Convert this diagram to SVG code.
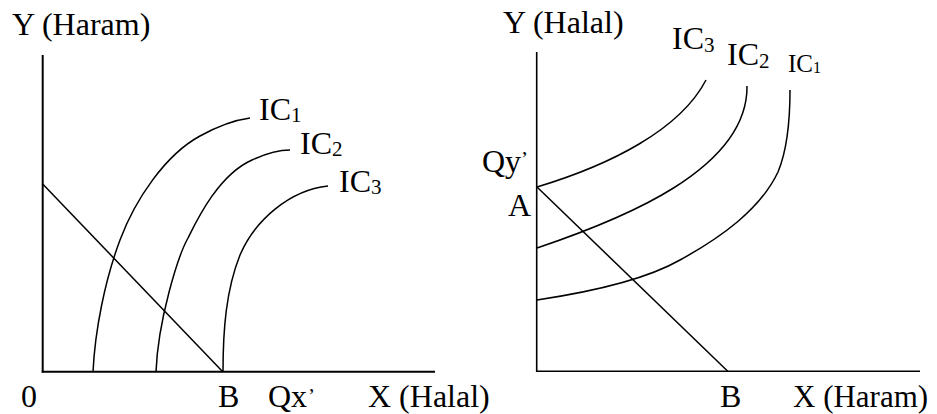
<svg xmlns="http://www.w3.org/2000/svg" width="937" height="414" viewBox="0 0 937 414">
<style>
text{font-family:"Liberation Serif","Times New Roman",serif;font-size:32px;fill:#000}
.sub{font-size:21px}
.axis{stroke:#000;stroke-width:2;fill:none}
.curve{stroke:#000;stroke-width:1.5;fill:none}
</style>
<rect width="937" height="414" fill="#fff"/>
<g id="left-panel">
<g id="left-axes">
<line class="axis" x1="42.7" y1="55" x2="42.7" y2="372.5"/>
<line class="axis" x1="41.7" y1="371.7" x2="435" y2="371.7"/>
<text x="12" y="35">Y (Haram)</text>
<text x="21" y="407">0</text>
<text x="368" y="407">X (Halal)</text>
</g>
<g id="left-IC1">
<path class="curve" d="M93,372 C95,330 105,280 120,240 C135,200 165,155 200,136 C220,125 235,120 250,118"/>
<text x="259" y="120">IC<tspan class="sub" dy="2">1</tspan></text>
</g>
<g id="left-IC2">
<path class="curve" d="M156,372 C158,320 178,256 188,238 C196,222 218,175 252,160 C265,154 278,150 290,150"/>
<text x="300" y="154">IC<tspan class="sub" dy="2">2</tspan></text>
</g>
<g id="left-IC3">
<path class="curve" d="M223,372 C223,330 226,290 240,255 C255,220 290,190 328,186"/>
<text x="339" y="192">IC<tspan class="sub" dy="2">3</tspan></text>
</g>
<g id="left-budget">
<line class="curve" x1="42.7" y1="184" x2="223" y2="372"/>
<text x="218" y="407">B</text>
<text x="268" y="407">Qx<tspan class="sub" dx="1" dy="-4">’</tspan></text>
</g>
</g>
<g id="right-panel">
<g id="right-axes">
<line class="axis" x1="536.7" y1="52" x2="536.7" y2="372" style="stroke-width:1.6"/>
<line class="axis" x1="536" y1="371.2" x2="920" y2="371.2" style="stroke-width:1.6"/>
<text x="503" y="33">Y (Halal)</text>
<text x="793" y="407" style="font-size:31px">X (Haram)</text>
</g>
<g id="right-IC3">
<path class="curve" d="M537,187 C610,165 680,130 706,80"/>
<text x="672" y="49">IC<tspan class="sub" dy="3">3</tspan></text>
</g>
<g id="right-IC2">
<path class="curve" d="M537,248 C620,220 748,170 747,86"/>
<text x="727" y="65">IC<tspan class="sub" dy="3">2</tspan></text>
</g>
<g id="right-IC1">
<path class="curve" d="M537,300 C590,292 645,280 680,260 C720,238 760,210 778,172 C788,148 790,120 790,90"/>
<text x="788" y="72" style="font-size:25px">IC<tspan style="font-size:16px" dy="1">1</tspan></text>
</g>
<g id="right-budget">
<line class="curve" x1="537" y1="187" x2="728" y2="371.5"/>
<text x="482" y="172">Qy<tspan class="sub" dy="-6">’</tspan></text>
<text x="508" y="216">A</text>
<text x="720" y="407">B</text>
</g>
</g>
</svg>
